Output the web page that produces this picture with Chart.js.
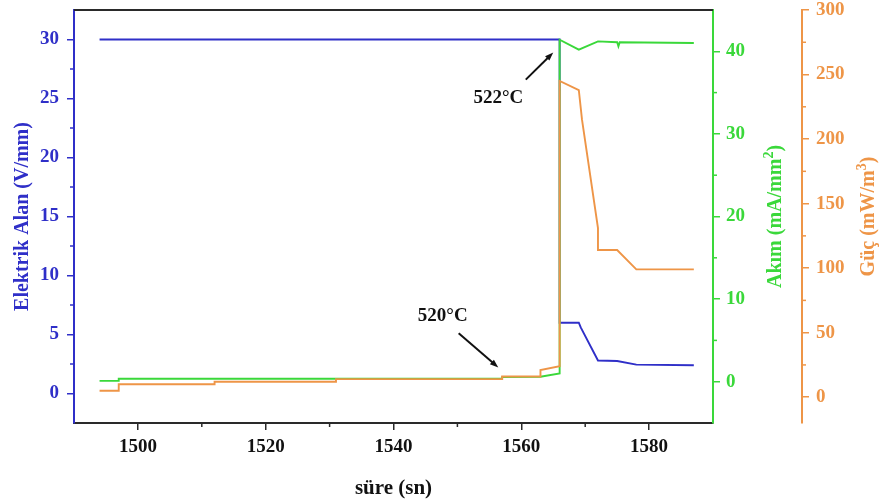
<!DOCTYPE html>
<html>
<head>
<meta charset="utf-8">
<script src="https://cdn.jsdelivr.net/npm/chart.js@4.4.0/dist/chart.umd.min.js"></script>
<style>
  html, body { margin: 0; padding: 0; background: #fff; }
  #wrap { width: 881px; height: 504px; position: relative; }
</style>
</head>
<body>
<div id="wrap"><canvas id="chart"></canvas></div>
<script>
// time axis (s)
const xTicks = [1500, 1520, 1540, 1560, 1580];
const xMinor = [1510, 1530, 1550, 1570];

// Elektrik Alan (V/mm)
const fieldTime = [1494, 1566, 1566, 1569, 1569.3, 1572, 1575, 1578, 1587];
const fieldValue = [30, 30, 6.0, 6.0, 5.6, 2.8, 2.75, 2.45, 2.4];
const fieldTicks = [0, 5, 10, 15, 20, 25, 30];
const fieldMinor = [2.5, 7.5, 12.5, 17.5, 22.5, 27.5];

// Akım (mA/mm2)
const currentTime = [1494, 1497, 1497, 1557, 1557, 1563, 1566, 1566, 1569, 1572, 1575, 1575.2, 1575.4, 1587];
const currentValue = [0.1, 0.1, 0.35, 0.35, 0.55, 0.6, 1.0, 41.4, 40.2, 41.2, 41.1, 40.6, 41.1, 41.0];
const currentTicks = [0, 10, 20, 30, 40];
const currentMinor = [5, 15, 25, 35];

// Güç (mW/m3)
const powerTime = [1494, 1497, 1497, 1512, 1512, 1531, 1531, 1557, 1557, 1563, 1563, 1566, 1566, 1569, 1569.5, 1572, 1572, 1575, 1578, 1587];
const powerValue = [5, 5, 10, 10, 12, 12, 14, 14, 16, 16, 21, 24, 245, 238, 215, 131, 114, 114, 99, 99];
const powerTicks = [0, 50, 100, 150, 200, 250, 300];
const powerMinor = [25, 75, 125, 175, 225, 275];

// temperature notes, placed in (time, field) units
const notes = [
  { text: "522°C", tx: 1556.4, ty: 25.0, from: [1560.7, 26.6], to: [1565.0, 28.9] },
  { text: "520°C", tx: 1547.7, ty: 6.6, from: [1550.2, 5.1], to: [1556.4, 2.2] },
];

const BLUE = "#2f2fc8";
const GREEN = "#3ad83a";
const ORANGE = "#ee9547";
const DARK = "#2a2a2a";
const FONT = "'Liberation Serif', 'Times New Roman', serif";

const zip = (xs, ys) => xs.map((x, i) => ({ x, y: ys[i] }));
const fixTicks = (list) => (scale) => {
  scale.ticks = list.map((v) => ({ value: v }));
};
const fitTo = (w, h) => (s) => {
  if (w) s.width = w;
  if (h) s.height = h;
  s.paddingTop = 0;
  s.paddingBottom = 0;
  s.paddingLeft = 0;
  s.paddingRight = 0;
};

function drawMinor(ctx, scale, values, horizontal, color) {
  ctx.strokeStyle = color;
  ctx.lineWidth = 1.5;
  values.forEach((v) => {
    const p = scale.getPixelForValue(v);
    ctx.beginPath();
    if (horizontal) {
      ctx.moveTo(p, scale.top);
      ctx.lineTo(p, scale.top + 4);
    } else if (scale.position === "left") {
      ctx.moveTo(scale.right, p);
      ctx.lineTo(scale.right - 4, p);
    } else {
      ctx.moveTo(scale.left, p);
      ctx.lineTo(scale.left + 4, p);
    }
    ctx.stroke();
  });
}

// rotated title reading bottom-to-top, with a raised exponent
function sideTitle(ctx, parts, x, y, color) {
  ctx.save();
  ctx.translate(x, y);
  ctx.rotate(-Math.PI / 2);
  ctx.fillStyle = color;
  ctx.textBaseline = "alphabetic";
  ctx.textAlign = "left";
  const big = `bold 20px ${FONT}`;
  const small = `bold 14px ${FONT}`;
  const widths = parts.map(([t, sup]) => {
    ctx.font = sup ? small : big;
    return ctx.measureText(t).width;
  });
  let cx = -widths.reduce((a, b) => a + b, 0) / 2;
  parts.forEach(([t, sup], i) => {
    ctx.font = sup ? small : big;
    ctx.fillText(t, cx, sup ? -1 : 7);
    cx += widths[i];
  });
  ctx.restore();
}

const decor = {
  id: "decor",
  afterDraw(chart) {
    const { ctx, chartArea: a, scales } = chart;
    ctx.save();

    // top frame
    ctx.strokeStyle = DARK;
    ctx.lineWidth = 2;
    ctx.beginPath();
    ctx.moveTo(a.left, a.top);
    ctx.lineTo(a.right, a.top);
    ctx.stroke();

    drawMinor(ctx, scales.x, xMinor, true, DARK);
    drawMinor(ctx, scales.y, fieldMinor, false, BLUE);
    drawMinor(ctx, scales.y1, currentMinor, false, GREEN);
    drawMinor(ctx, scales.y2, powerMinor, false, ORANGE);

    const midY = (a.top + a.bottom) / 2;
    sideTitle(ctx, [["Akım (mA/mm"], ["2", true], [")"]], scales.y1.left + 61, midY, GREEN);
    sideTitle(ctx, [["Güç (mW/m"], ["3", true], [")"]], scales.y2.left + 65, midY, ORANGE);

    // temperature notes with arrows
    ctx.fillStyle = "#111";
    ctx.strokeStyle = "#111";
    ctx.font = `bold 19px ${FONT}`;
    ctx.textAlign = "center";
    ctx.textBaseline = "middle";
    notes.forEach((n) => {
      ctx.fillText(n.text, scales.x.getPixelForValue(n.tx), scales.y.getPixelForValue(n.ty));
      const x0 = scales.x.getPixelForValue(n.from[0]);
      const y0 = scales.y.getPixelForValue(n.from[1]);
      const x1 = scales.x.getPixelForValue(n.to[0]);
      const y1 = scales.y.getPixelForValue(n.to[1]);
      const ang = Math.atan2(y1 - y0, x1 - x0);
      ctx.lineWidth = 2;
      ctx.beginPath();
      ctx.moveTo(x0, y0);
      ctx.lineTo(x1 - 6 * Math.cos(ang), y1 - 6 * Math.sin(ang));
      ctx.stroke();
      ctx.beginPath();
      ctx.moveTo(x1, y1);
      ctx.lineTo(x1 - 9 * Math.cos(ang - 0.35), y1 - 9 * Math.sin(ang - 0.35));
      ctx.lineTo(x1 - 9 * Math.cos(ang + 0.35), y1 - 9 * Math.sin(ang + 0.35));
      ctx.closePath();
      ctx.fill();
    });

    ctx.restore();
  },
};

const tickFont = { family: FONT, size: 19, weight: "bold" };

new Chart(document.getElementById("chart"), {
  type: "line",
  data: {
    datasets: [
      {
        label: "Güç",
        data: zip(powerTime, powerValue),
        yAxisID: "y2",
        borderColor: ORANGE,
      },
      {
        label: "Akım",
        data: zip(currentTime, currentValue),
        yAxisID: "y1",
        borderColor: GREEN,
      },
      {
        label: "Elektrik Alan",
        data: zip(fieldTime, fieldValue),
        yAxisID: "y",
        borderColor: BLUE,
      },
    ],
  },
  options: {
    responsive: true,
    maintainAspectRatio: false,
    animation: false,
    layout: { padding: { top: 10, left: 0, right: 0, bottom: 0 } },
    elements: {
      line: { borderWidth: 1.9, tension: 0, fill: false },
      point: { radius: 0, hoverRadius: 0 },
    },
    plugins: {
      legend: { display: false },
      tooltip: { enabled: false },
    },
    scales: {
      x: {
        type: "linear",
        min: 1490,
        max: 1590,
        afterBuildTicks: fixTicks(xTicks),
        afterFit: fitTo(0, 81),
        ticks: { color: "#111", font: tickFont, padding: 6, maxRotation: 0, callback: (v) => String(v) },
        grid: { drawOnChartArea: false, color: DARK, tickLength: 7, lineWidth: 1.5 },
        border: { color: DARK, width: 2 },
        title: {
          display: true,
          text: "süre (sn)",
          color: "#111",
          font: { family: FONT, size: 21, weight: "bold" },
          padding: { top: 0, bottom: 3 },
        },
      },
      y: {
        type: "linear",
        position: "left",
        min: -2.5,
        max: 32.5,
        afterBuildTicks: fixTicks(fieldTicks),
        afterFit: fitTo(74, 0),
        ticks: { color: BLUE, font: tickFont, padding: 8 },
        grid: { drawOnChartArea: false, color: BLUE, tickLength: 7, lineWidth: 1.5 },
        border: { color: BLUE, width: 2 },
        title: {
          display: true,
          text: "Elektrik Alan (V/mm)",
          color: BLUE,
          font: { family: FONT, size: 20, weight: "bold" },
          padding: { top: 11, bottom: 0 },
        },
      },
      y1: {
        type: "linear",
        position: "right",
        weight: 0,
        min: -5,
        max: 45,
        afterBuildTicks: fixTicks(currentTicks),
        afterFit: fitTo(89, 0),
        ticks: { color: GREEN, font: tickFont, padding: 6 },
        grid: { drawOnChartArea: false, color: GREEN, tickLength: 7, lineWidth: 1.5 },
        border: { color: GREEN, width: 2 },
      },
      y2: {
        type: "linear",
        position: "right",
        weight: 1,
        min: -20,
        max: 300,
        afterBuildTicks: fixTicks(powerTicks),
        afterFit: fitTo(79, 0),
        ticks: { color: ORANGE, font: tickFont, padding: 7 },
        grid: { drawOnChartArea: false, color: ORANGE, tickLength: 7, lineWidth: 1.5 },
        border: { color: ORANGE, width: 2 },
      },
    },
  },
  plugins: [decor],
});
</script>
</body>
</html>
